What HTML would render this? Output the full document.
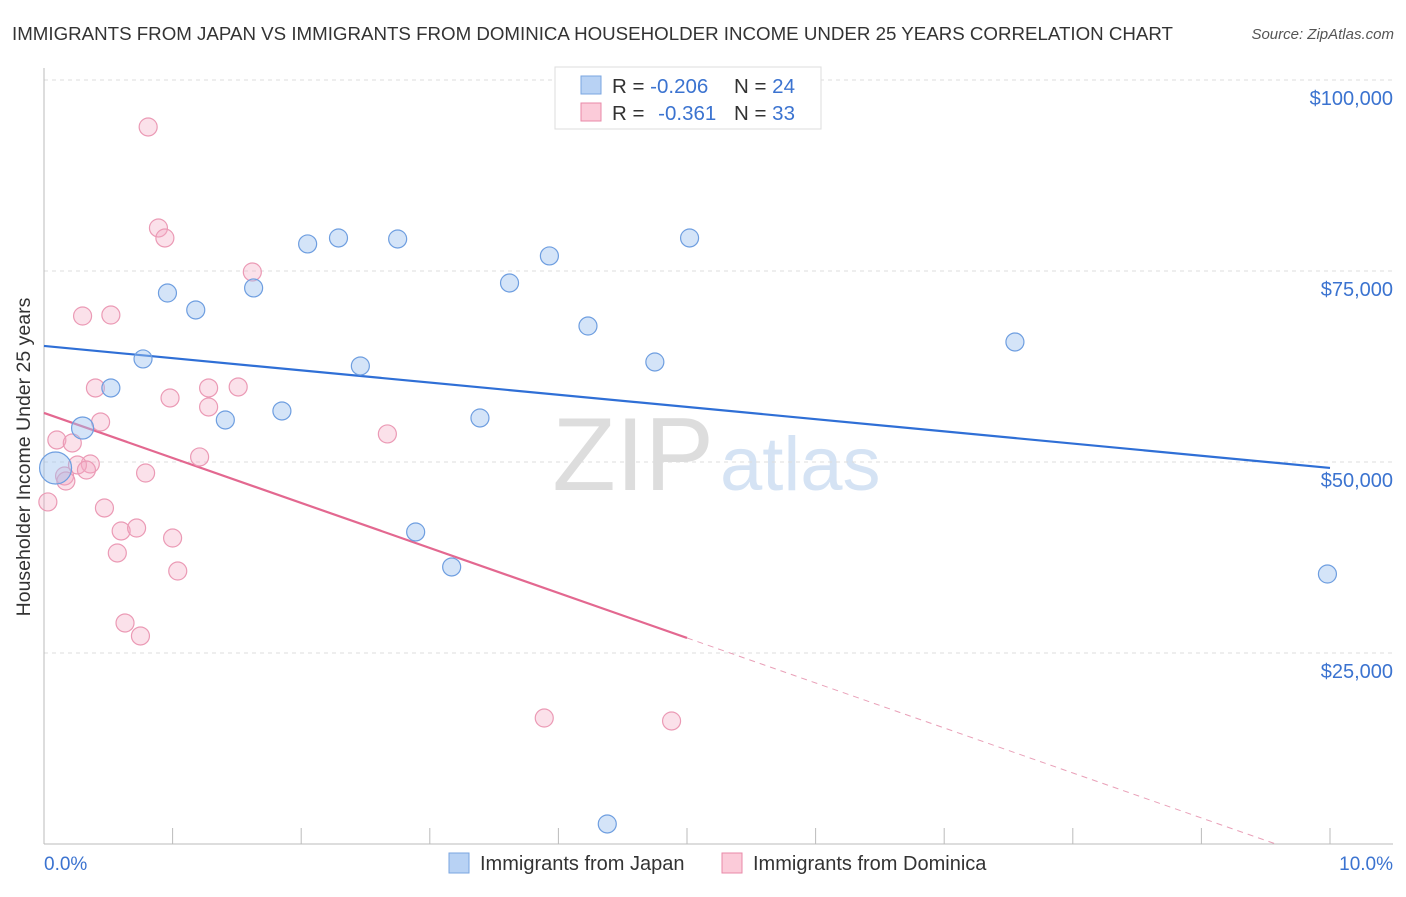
<!DOCTYPE html>
<html><head><meta charset="utf-8"><style>
body{margin:0;background:#fff;font-family:"Liberation Sans",sans-serif;}
svg text{font-family:"Liberation Sans",sans-serif;}
</style></head><body>
<svg width="1406" height="892" id="chart">
<text x="12" y="40" font-size="18.5" fill="#333" textLength="1161" lengthAdjust="spacingAndGlyphs">IMMIGRANTS FROM JAPAN VS IMMIGRANTS FROM DOMINICA HOUSEHOLDER INCOME UNDER 25 YEARS CORRELATION CHART</text>
<text x="1394" y="39" font-size="15" fill="#555" text-anchor="end" font-style="italic">Source: ZipAtlas.com</text>
<text x="714" y="490" font-size="104" fill="#ddd" text-anchor="end" font-family="Liberation Serif">ZIP</text>
<text x="720" y="490" font-size="76" fill="#d5e3f4">atlas</text>
<g id="grid"></g><g id="axes"></g><g id="lines"></g><g id="pts"></g>
<text x="30" y="457" font-size="19.5" fill="#333" text-anchor="middle" transform="rotate(-90 30 457)">Householder Income Under 25 years</text>
<text x="44" y="870" font-size="19" fill="#3b73d0">0.0%</text>
<text x="1393" y="870" font-size="19" fill="#3b73d0" text-anchor="end">10.0%</text>
<g>
<rect x="555" y="67" width="266" height="62" fill="#fff" stroke="#ddd"/>
<rect x="581" y="76" width="20" height="18" fill="#b8d2f4" stroke="#7aa6e0"/>
<rect x="581" y="103" width="20" height="18" fill="#fbcbd9" stroke="#e88aa8"/>
<text x="612" y="93" font-size="20.5" fill="#333">R = <tspan fill="#3b73d0">-0.206</tspan><tspan x="734">N = </tspan><tspan fill="#3b73d0">24</tspan></text>
<text x="612" y="120" font-size="20.5" fill="#333">R = <tspan fill="#3b73d0" dx="8">-0.361</tspan><tspan x="734">N = </tspan><tspan fill="#3b73d0">33</tspan></text>
</g>
<g>
<rect x="449" y="853" width="20" height="20" fill="#b8d2f4" stroke="#7aa6e0"/>
<text x="480" y="870" font-size="20" fill="#333">Immigrants from Japan</text>
<rect x="722" y="853" width="20" height="20" fill="#fbcbd9" stroke="#e88aa8"/>
<text x="753" y="870" font-size="20" fill="#333">Immigrants from Dominica</text>
</g>
</svg>
<script>
const yTicks=[25000,50000,75000,100000];
const yTickLabels=["$25,000","$50,000","$75,000","$100,000"];
const japanX=[0.30,0.09,0.52,0.77,0.96,1.18,1.41,1.63,1.85,2.05,2.29,2.46,2.75,2.89,3.17,3.39,3.62,3.93,4.23,4.38,4.75,5.02,7.55,9.98];
const japanY=[54450,49215,59690,63490,72120,69900,55500,72780,56680,78540,79320,62570,79190,40840,36260,55760,73430,76970,67800,2620,63090,79320,65710,35340];
const japanR=[11,16,9,9,9,9,9,9,9,9,9,9,9,9,9,9,9,9,9,9,9,9,9,9];
const domX=[0.81,0.89,0.94,1.62,0.30,0.52,0.40,1.28,1.51,0.98,1.28,0.44,2.67,0.10,0.22,0.36,0.26,0.33,1.21,0.79,0.16,0.17,0.03,0.47,0.60,0.72,1.00,0.57,1.04,0.63,0.75,3.89,4.88];
const domY=[93850,80630,79320,74870,69110,69240,59690,59690,59820,58380,57200,55240,53670,52880,52490,49740,49610,48950,50660,48560,48170,47510,44770,43980,40970,41360,40050,38090,35730,28930,27230,16490,16100];
const japanTrend=[65190,49220];
const domTrend=[56420,26970];
const NS="http://www.w3.org/2000/svg";
const X=v=>44+v*128.6, Y=v=>844-v*191/25000;
function mk(tag,at,parent){const e=document.createElementNS(NS,tag);for(const k in at)e.setAttribute(k,at[k]);document.getElementById(parent).appendChild(e);return e;}
yTicks.forEach((t,i)=>{
 const l=mk('line',{x1:44,x2:1393,y1:Y(t),y2:Y(t),stroke:'#ddd','stroke-dasharray':'4,4'},'grid');
 
 
 const tx=mk('text',{x:1393,y:Y(t)+25,'font-size':20,fill:'#3b73d0','text-anchor':'end'},'grid');
 tx.textContent=yTickLabels[i];
 
 
});
let a=mk('line',{x1:44,x2:44,y1:68,y2:844,stroke:'#bbb'},'axes');


a=mk('line',{x1:44,x2:1393,y1:844,y2:844,stroke:'#bbb'},'axes');


for(let i=1;i<=10;i++){const t=mk('line',{x1:X(i),x2:X(i),y1:828,y2:844,stroke:'#bbb'},'axes');
 
 }
let ln=mk('line',{x1:X(0),y1:Y(japanTrend[0]),x2:X(10),y2:Y(japanTrend[1]),stroke:'#2f6fd6','stroke-width':2.2},'lines');


const slope=(domTrend[1]-domTrend[0])/5, zx=-domTrend[0]/slope;
ln=mk('line',{x1:X(0),y1:Y(domTrend[0]),x2:X(5),y2:Y(domTrend[1]),stroke:'#e36890','stroke-width':2.2},'lines');


ln=mk('line',{x1:X(5),y1:Y(domTrend[1]),x2:X(zx),y2:Y(0),stroke:'#e9a0b8','stroke-width':1,'stroke-dasharray':'6,5'},'lines');


domX.forEach((x,i)=>{const c=mk('circle',{cx:X(x),cy:Y(domY[i]),r:9,fill:'rgba(244,170,195,0.35)',stroke:'#eb9ab5','stroke-width':1.2},'pts');
 
 });
japanX.forEach((x,i)=>{const c=mk('circle',{cx:X(x),cy:Y(japanY[i]),r:japanR[i],fill:'rgba(160,195,240,0.45)',stroke:'#6e9ee0','stroke-width':1.2},'pts');
 
 });
</script>
</body></html>
